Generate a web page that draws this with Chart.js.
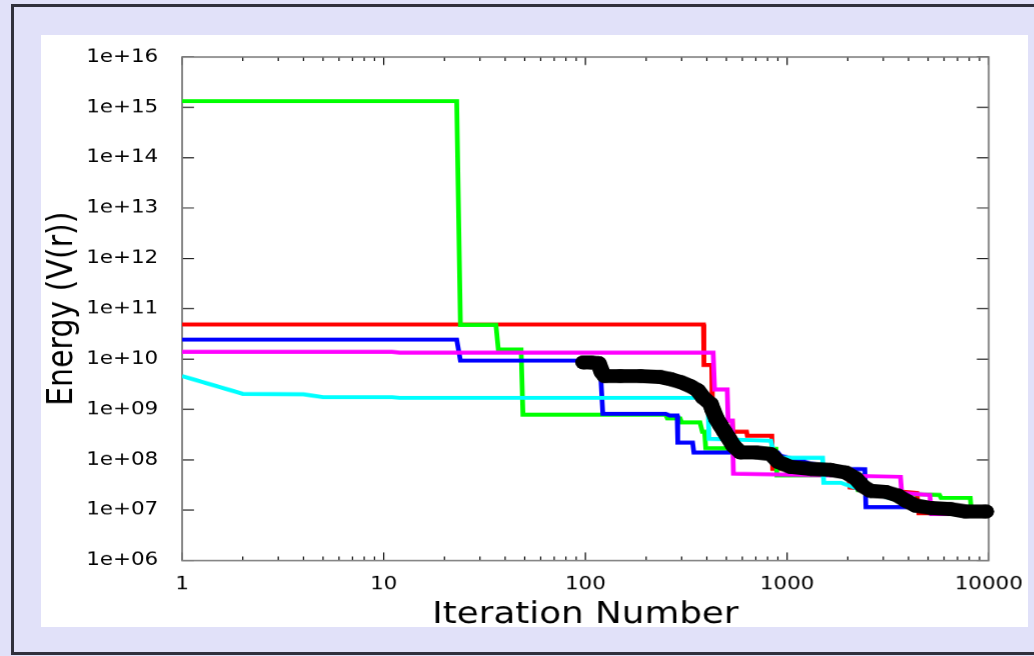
<!DOCTYPE html>
<html>
<head>
<meta charset="utf-8">
<script src="https://cdn.jsdelivr.net/npm/chart.js@4"></script>
<style>
  html, body { margin: 0; padding: 0; }
  body { width: 1034px; height: 656px; background: #e1e1f9; position: relative; overflow: hidden; }
  #frame { position: absolute; left: 11px; top: 4px; width: 1100px; height: 645px; border: 3px solid #30303c; }
  #panel { position: absolute; left: 41px; top: 35px; width: 987px; height: 592px; background: #fff; }
  /* the reference picture is stretched sideways, so the chart is too */
  #wrap { position: absolute; left: 41px; top: 35px; width: 829px; height: 598px; transform: scaleX(1.19); transform-origin: 0 0; }
</style>
</head>
<body>
<div id="frame"></div>
<div id="panel"></div>
<div id="wrap"><canvas id="chart"></canvas></div>
<script>
const xTickValues = [1, 10, 100, 1000, 10000];
const xTickLabels = ['1', '10', '100', '1000', '10000'];
const yTickValues = [1e6, 1e7, 1e8, 1e9, 1e10, 1e11, 1e12, 1e13, 1e14, 1e15, 1e16];
const yTickLabels = ['1e+06', '1e+07', '1e+08', '1e+09', '1e+10', '1e+11', '1e+12', '1e+13', '1e+14', '1e+15', '1e+16'];

const redX = [1, 385, 387, 423, 426, 535, 538, 630, 635, 840, 848, 2000, 2050, 4400, 4500, 10000];
const redY = [4.9e10, 4.9e10, 7.6e9, 7.6e9, 6e8, 6e8, 3.6e8, 3.6e8, 3.0e8, 3.0e8, 6.6e7, 6.5e7, 2.8e7, 2.2e7, 8.7e6, 8.7e6];

const greenX = [1, 23, 24, 36, 37, 48, 49, 250, 255, 295, 300, 370, 380, 390, 395, 880, 890, 2200, 2250, 4000, 5700, 5800, 8100, 8200, 10000];
const greenY = [1.33e15, 1.33e15, 4.8e10, 4.8e10, 1.55e10, 1.55e10, 7.9e8, 7.9e8, 6.6e8, 6.6e8, 5.5e8, 5.5e8, 3.6e8, 3.6e8, 1.7e8, 1.65e8, 4.9e7, 4.9e7, 2.5e7, 2.1e7, 2.0e7, 1.75e7, 1.75e7, 9.5e6, 9.5e6];

const blueX = [1, 23, 24, 118, 122, 250, 262, 285, 287, 340, 345, 900, 930, 1150, 1300, 2050, 2430, 2460, 4600, 4800, 10000];
const blueY = [2.45e10, 2.45e10, 9.3e9, 9.3e9, 8.2e8, 8.2e8, 7.6e8, 7.6e8, 2.2e8, 2.2e8, 1.4e8, 1.4e8, 1.2e8, 9.8e7, 8.5e7, 6.6e7, 6.5e7, 1.15e7, 1.15e7, 1.0e7, 9.5e6];

const magentaX = [1, 11, 12, 430, 437, 505, 510, 535, 542, 3650, 3700, 5100, 5200, 10000];
const magentaY = [1.4e10, 1.4e10, 1.35e10, 1.35e10, 2.5e9, 2.5e9, 6e8, 6e8, 5.3e7, 4.6e7, 2.2e7, 2.0e7, 8.3e6, 8.3e6];

const cyanX = [1, 2, 4, 5, 11, 12, 405, 410, 830, 870, 1500, 1520, 1850, 2400, 4300, 10000];
const cyanY = [4.6e9, 2.05e9, 2.0e9, 1.75e9, 1.75e9, 1.7e9, 1.7e9, 2.6e8, 2.4e8, 1.1e8, 1.1e8, 3.5e7, 3.5e7, 2.4e7, 1.25e7, 9.5e6];

const blackX = [98, 106, 116, 121, 125, 149, 188, 235, 264, 296, 332, 360, 385, 417, 427, 447, 468, 490, 513, 542, 588, 698, 828, 908, 1041, 1309, 1644, 1950, 2188, 2371, 2597, 3083, 3534, 3875, 4345, 5154, 6477, 7690, 9660];
const blackY = [8.6e9, 8.6e9, 8.3e9, 5.4e9, 4.6e9, 4.6e9, 4.6e9, 4.4e9, 4.0e9, 3.5e9, 2.9e9, 2.4e9, 1.7e9, 1.3e9, 1.0e9, 6.5e8, 4.8e8, 3.6e8, 2.7e8, 1.9e8, 1.4e8, 1.4e8, 1.3e8, 9.0e7, 7.2e7, 6.6e7, 6.3e7, 5.6e7, 4.3e7, 3.0e7, 2.4e7, 2.3e7, 1.95e7, 1.55e7, 1.23e7, 1.1e7, 1.05e7, 9.4e6, 9.4e6];

const pts = (xs, ys) => xs.map((x, i) => ({ x: x, y: ys[i] }));
const FONT = 'DejaVu Sans';

function lineSet(xs, ys, color) {
  return {
    data: pts(xs, ys),
    borderColor: color,
    borderWidth: 4,
    pointRadius: 0,
    borderJoinStyle: 'miter',
    tension: 0
  };
}

// frame round the plot and inward tick marks, as gnuplot draws them
const frameTicks = {
  id: 'frameTicks',
  beforeDatasetsDraw(chart) {
    const { ctx, chartArea: a, scales: { x, y } } = chart;
    ctx.save();
    ctx.strokeStyle = '#000';
    ctx.lineWidth = 1;
    ctx.beginPath();
    for (let d = 1; d <= 10000; d *= 10) {
      for (let k = 1; k <= 9; k++) {
        const v = d * k;
        if (v > 10000) break;
        const px = x.getPixelForValue(v);
        const len = k === 1 ? 8 : 4;
        ctx.moveTo(px, a.bottom); ctx.lineTo(px, a.bottom - len);
        ctx.moveTo(px, a.top); ctx.lineTo(px, a.top + len);
      }
    }
    yTickValues.forEach(v => {
      const py = y.getPixelForValue(v);
      ctx.moveTo(a.left, py); ctx.lineTo(a.left + 10, py);
      ctx.moveTo(a.right, py); ctx.lineTo(a.right - 10, py);
    });
    ctx.stroke();
    ctx.strokeStyle = '#7a7a7a';
    ctx.lineWidth = 1.5;
    ctx.strokeRect(a.left, a.top, a.right - a.left, a.bottom - a.top);
    ctx.restore();
  }
};

new Chart(document.getElementById('chart'), {
  type: 'line',
  data: {
    datasets: [
      {
        data: pts(blackX, blackY),
        borderColor: '#000',
        borderWidth: 14,
        borderCapStyle: 'round',
        borderJoinStyle: 'round',
        pointRadius: 7,
        pointBackgroundColor: '#000',
        pointBorderWidth: 0,
        tension: 0,
        clip: 9
      },
      lineSet(cyanX, cyanY, '#00ffff'),
      lineSet(magentaX, magentaY, '#ff00ff'),
      lineSet(blueX, blueY, '#0000ff'),
      lineSet(greenX, greenY, '#00ff00'),
      lineSet(redX, redY, '#ff0000')
    ]
  },
  options: {
    responsive: true,
    maintainAspectRatio: false,
    animation: false,
    devicePixelRatio: 1.19,
    layout: { padding: { top: 22, right: 33, left: 0, bottom: 0 } },
    plugins: { legend: { display: false }, tooltip: { enabled: false } },
    scales: {
      x: {
        type: 'logarithmic',
        min: 1,
        max: 10000,
        grid: { display: false },
        border: { display: false },
        afterBuildTicks: s => { s.ticks = xTickValues.map(v => ({ value: v })); },
        afterFit: s => { s.height = 73; s.paddingLeft = 0; s.paddingRight = 0; },
        ticks: {
          autoSkip: false,
          maxRotation: 0,
          padding: 5,
          color: '#000',
          font: { family: FONT, size: 18 },
          callback: (v, i) => xTickLabels[i]
        },
        title: {
          display: true,
          text: 'Iteration Number',
          color: '#000',
          font: { family: FONT, size: 30 },
          padding: 0
        }
      },
      y: {
        type: 'logarithmic',
        min: 1e6,
        max: 1e16,
        grid: { display: false },
        border: { display: false },
        afterBuildTicks: s => { s.ticks = yTickValues.map(v => ({ value: v })); },
        afterFit: s => { s.width = 118.5; s.paddingTop = 0; s.paddingBottom = 0; },
        ticks: {
          autoSkip: false,
          padding: 12,
          color: '#000',
          font: { family: FONT, size: 18 },
          callback: (v, i) => yTickLabels[i]
        },
        title: {
          display: true,
          text: 'Energy (V(r))',
          color: '#000',
          font: { family: FONT, size: 30 },
          padding: 0
        }
      }
    }
  },
  plugins: [frameTicks]
});
</script>
</body>
</html>
